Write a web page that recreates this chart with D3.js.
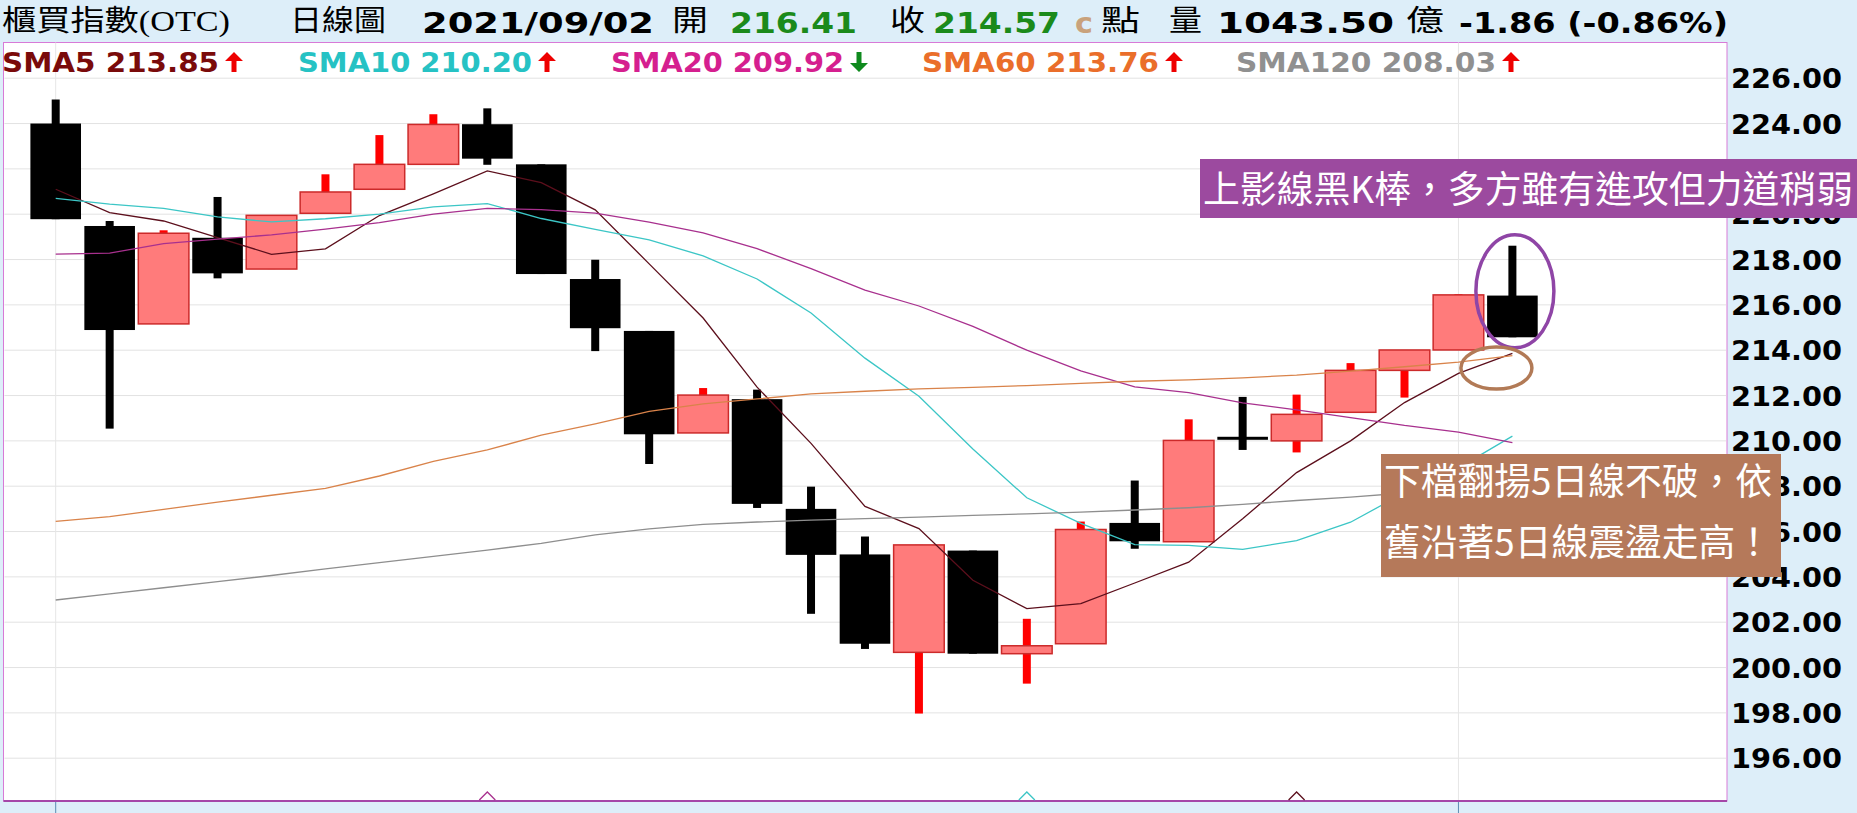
<!DOCTYPE html>
<html>
<head>
<meta charset="utf-8">
<script src="https://cdn.jsdelivr.net/npm/d3@7"></script>
<style>
  body { margin: 0; background: #ddeef9; overflow: hidden; }
  svg { display: block; }
</style>
</head>
<body>
<svg id="chart"></svg>
<script>
// daily candles, OTC index, 2021/07/27 - 2021/09/02
const dates = ['07/27','07/28','07/29','07/30','08/02','08/03','08/04','08/05','08/06','08/09',
  '08/10','08/11','08/12','08/13','08/16','08/17','08/18','08/19','08/20','08/23',
  '08/24','08/25','08/26','08/27','08/30','08/31','09/01','09/02']
const open  = [224.00,219.48,215.16,218.96,217.58,220.04,221.10,222.20,223.97,222.20,
  217.14,214.85,210.35,211.84,207.00,204.99,200.67,205.16,200.61,201.05,
  206.38,205.55,210.18,210.00,211.26,213.11,214.01,216.41]
const high  = [225.06,219.70,219.29,220.76,219.95,221.76,223.49,224.41,224.67,222.20,
  217.99,214.85,212.33,212.26,207.98,205.78,205.41,205.16,202.15,206.44,
  208.25,210.95,211.94,212.04,213.43,214.01,216.47,218.61]
const low   = [219.78,210.54,215.16,217.17,217.58,220.04,221.10,222.20,222.18,217.36,
  213.96,208.98,210.35,207.04,202.37,200.82,197.97,200.61,199.29,201.05,
  205.24,205.55,209.60,209.49,211.26,211.91,214.01,214.57]
const close = [219.78,214.89,219.16,217.39,219.95,220.98,222.20,223.96,222.45,217.36,
  214.97,210.29,212.02,207.22,204.97,201.05,205.41,200.61,200.96,206.09,
  205.57,210.02,210.15,211.17,213.11,214.01,216.44,214.57]

const sma5   = [221.10,220.07,219.70,218.97,218.23,218.47,219.94,220.90,221.91,221.39,
  220.19,217.81,215.42,212.37,209.89,207.11,206.13,203.85,202.60,202.82,
  203.73,204.65,206.56,208.60,210.00,211.69,212.98,213.86]
const sma10  = [220.70,220.44,220.26,219.88,219.66,219.80,220.00,220.32,220.47,219.81,
  219.33,218.87,218.16,217.14,215.64,213.65,211.97,209.64,207.49,206.36,
  205.42,205.39,205.21,205.60,206.41,207.71,208.81,210.21]
const sma20  = [218.24,218.28,218.70,218.90,219.09,219.34,219.63,220.00,220.26,220.20,
  220.05,219.65,219.18,218.48,217.60,216.65,215.95,215.05,214.00,213.09,
  212.38,212.13,211.68,211.37,211.03,210.68,210.39,209.92]
const sma60  = [206.45,206.66,206.98,207.30,207.60,207.90,208.45,209.10,209.60,210.25,
  210.75,211.30,211.63,211.85,212.07,212.19,212.29,212.36,212.44,212.54,
  212.63,212.69,212.78,212.90,213.08,213.27,213.47,213.76]
const sma120 = [202.98,203.25,203.52,203.79,204.06,204.35,204.63,204.90,205.18,205.48,
  205.85,206.12,206.32,206.42,206.50,206.57,206.64,206.71,206.78,206.86,
  206.95,207.05,207.20,207.37,207.52,207.70,207.87,208.03]

const yTicks = [196,198,200,202,204,206,208,210,212,214,216,218,220,222,224,226]
const gridDates = ['07/27','09/01']
const turnDates = ['08/06','08/20','08/27']
const turnSeries = ['SMA20','SMA10','SMA5']

const maNames  = ['SMA5','SMA10','SMA20','SMA60','SMA120']
const maValues = [213.85,210.20,209.92,213.76,208.03]
const maDir    = ['up','up','down','up','up']

const headerParts = ['櫃買指數(OTC)','日線圖','2021/09/02','開','216.41','收','214.57','c','點','量','1043.50','億','-1.86 (-0.86%)']
const note1 = '上影線黑K棒，多方雖有進攻但力道稍弱'
const note2 = ['下檔翻揚5日線不破，依','舊沿著5日線震盪走高！']

// ---- layout / styles
const W = 1857, H = 813
const plot = {left: 3.5, top: 42.5, right: 1727, bottom: 801}
const bg = '#ddeef9'
const serif = '"Liberation Serif","Noto Sans CJK TC",serif'
const cjk = '"Noto Sans CJK TC","Noto Sans",sans-serif'
const bold = '"DejaVu Sans",Verdana,sans-serif'
const lineColor = {SMA5: '#5c0f1c', SMA10: '#3cc6c6', SMA20: '#a8308e', SMA60: '#d9834a', SMA120: '#8e8e8e'}
const labelColor = {SMA5: '#7a0a0a', SMA10: '#26c2c4', SMA20: '#d51f8f', SMA60: '#ea6e2a', SMA120: '#909090'}
const maSeries = {SMA5: sma5, SMA10: sma10, SMA20: sma20, SMA60: sma60, SMA120: sma120}

const svg = d3.select('#chart').attr('width', W).attr('height', H)
svg.append('rect').attr('width', W).attr('height', H).attr('fill', bg)

const x = d3.scalePoint().domain(dates).range([55.7, 1512.4])
const y = d3.scaleLinear().domain([196, 226]).range([758.2, 78.2])
const step = x.step()
const bodyW = step * 0.938

// plot frame
svg.append('rect')
  .attr('x', plot.left).attr('y', plot.top)
  .attr('width', plot.right - plot.left).attr('height', plot.bottom - plot.top)
  .attr('fill', '#fff').attr('stroke', '#d77ad7').attr('stroke-width', 1)

// horizontal grid
svg.append('g').selectAll('line').data(yTicks).join('line')
  .attr('x1', plot.left + 1).attr('x2', plot.right - 1)
  .attr('y1', d => y(d)).attr('y2', d => y(d))
  .attr('stroke', '#e3e3e3').attr('stroke-width', 1)

// vertical grid + ticks under the frame
const vg = svg.append('g')
vg.selectAll('line.g').data(gridDates).join('line').attr('class', 'g')
  .attr('x1', d => x(d)).attr('x2', d => x(d))
  .attr('y1', plot.top).attr('y2', plot.bottom)
  .attr('stroke', '#e6e6e6')
vg.selectAll('line.t').data(gridDates).join('line').attr('class', 't')
  .attr('x1', d => x(d)).attr('x2', d => x(d))
  .attr('y1', plot.bottom).attr('y2', H)
  .attr('stroke', '#5b8db3')

svg.append('line')
  .attr('x1', plot.left).attr('x2', plot.right)
  .attr('y1', plot.bottom).attr('y2', plot.bottom)
  .attr('stroke', '#a547a8').attr('stroke-width', 2)

// candles
const candles = dates.map((d, i) => ({d, o: open[i], h: high[i], l: low[i], c: close[i]}))
const cg = svg.append('g')
const k = cg.selectAll('g').data(candles).join('g')
k.append('rect')
  .attr('x', d => x(d.d) - 4).attr('width', 8)
  .attr('y', d => y(d.h)).attr('height', d => Math.max(0.5, y(d.l) - y(d.h)))
  .attr('fill', d => d.c >= d.o ? '#ff0000' : '#000')
k.append('rect')
  .attr('x', d => x(d.d) - bodyW / 2).attr('width', bodyW)
  .attr('y', d => y(Math.max(d.o, d.c)))
  .attr('height', d => Math.max(3, Math.abs(y(d.o) - y(d.c))))
  .attr('fill', d => d.c >= d.o ? '#ff7b7b' : '#000')
  .attr('stroke', d => d.c >= d.o ? '#cc2a2a' : 'none')
  .attr('stroke-width', 1.5)

// moving averages
const line = d3.line().x((v, i) => x(dates[i])).y(v => y(v))
svg.append('g').selectAll('path').data(maNames).join('path')
  .attr('d', n => line(maSeries[n]))
  .attr('fill', 'none')
  .attr('stroke', n => lineColor[n])
  .attr('stroke-width', 1.3)

// turning markers at the bottom edge
svg.append('g').selectAll('path').data(turnDates).join('path')
  .attr('d', d => `M${x(d) - 8},${plot.bottom - 1} L${x(d)},${plot.bottom - 9} L${x(d) + 8},${plot.bottom - 1}`)
  .attr('fill', 'none')
  .attr('stroke', (d, i) => lineColor[turnSeries[i]])
  .attr('stroke-width', 1.3)

// y axis labels
svg.append('g').selectAll('text').data(yTicks).join('text')
  .attr('x', 1731).attr('y', d => y(d) + 10)
  .attr('textLength', 111).attr('lengthAdjust', 'spacingAndGlyphs')
  .attr('font-family', bold).attr('font-weight', 'bold').attr('font-size', 27)
  .attr('fill', '#000')
  .text(d => d.toFixed(2))

// legend
const legendX = [2, 298, 611, 922, 1236]
const legendW = [217, 234, 233, 237, 260]
const lg = svg.append('g')
maNames.forEach((n, i) => {
  lg.append('text')
    .attr('x', legendX[i]).attr('y', 71.5)
    .attr('textLength', legendW[i]).attr('lengthAdjust', 'spacingAndGlyphs')
    .attr('font-family', bold).attr('font-weight', 'bold').attr('font-size', 27)
    .attr('fill', labelColor[n])
    .text(`${n} ${maValues[i].toFixed(2)}`)
  const ax = legendX[i] + legendW[i] + 15
  const up = maDir[i] === 'up'
  const p = up
    ? `M${ax},52 L${ax + 9},61 L${ax + 2.5},61 L${ax + 2.5},72 L${ax - 2.5},72 L${ax - 2.5},61 L${ax - 9},61 Z`
    : `M${ax},72 L${ax + 9},63 L${ax + 2.5},63 L${ax + 2.5},52 L${ax - 2.5},52 L${ax - 2.5},63 L${ax - 9},63 Z`
  lg.append('path').attr('d', p).attr('fill', up ? '#ee0000' : '#0f8a1e')
})

// header
const headX = [2, 290, 422, 672, 730, 890, 933, 1075, 1101, 1169, 1217, 1406, 1459]
const headW = [228, 96, 232, 36, 127, 35, 127, 18, 39, 33, 177, 38, 269]
const headBold = [false, false, true, false, true, false, true, true, false, false, true, false, true]
const headColor = ['#000','#000','#000','#000','#1b8a1b','#000','#1b8a1b','#c9a27c','#000','#000','#000','#000','#000']
svg.append('g').selectAll('text').data(headerParts).join('text')
  .attr('x', (d, i) => headX[i]).attr('y', (d, i) => headBold[i] ? 32.5 : 31)
  .attr('textLength', (d, i) => headW[i]).attr('lengthAdjust', 'spacingAndGlyphs')
  .attr('font-family', (d, i) => headBold[i] ? bold : serif)
  .attr('font-weight', (d, i) => headBold[i] ? 'bold' : 'normal')
  .attr('font-size', 29)
  .attr('fill', (d, i) => headColor[i])
  .text(d => d)

// annotations
const last = dates[dates.length - 1]
svg.append('ellipse')
  .attr('cx', x(last) + 2.5).attr('cy', y(216.6)).attr('rx', 39).attr('ry', 56.5)
  .attr('fill', 'none').attr('stroke', '#8f45a6').attr('stroke-width', 3.5)
svg.append('ellipse')
  .attr('cx', x(last) - 16).attr('cy', y(213.21)).attr('rx', 35.5).attr('ry', 21)
  .attr('fill', 'none').attr('stroke', '#b27a56').attr('stroke-width', 3.5)

svg.append('rect').attr('x', 1200).attr('y', 159).attr('width', W - 1200).attr('height', 59)
  .attr('fill', '#9c4a9f')
svg.append('text').attr('x', 1203).attr('y', 203)
  .attr('textLength', 650).attr('lengthAdjust', 'spacingAndGlyphs')
  .attr('font-family', cjk).attr('font-size', 37).attr('fill', '#fff')
  .text(note1)

svg.append('rect').attr('x', 1381).attr('y', 454).attr('width', 400).attr('height', 123)
  .attr('fill', '#b5795a')
svg.append('g').selectAll('text').data(note2).join('text')
  .attr('x', 1384).attr('y', (d, i) => 495 + i * 61)
  .attr('textLength', 388).attr('lengthAdjust', 'spacingAndGlyphs')
  .attr('font-family', cjk).attr('font-size', 37).attr('fill', '#fff')
  .text(d => d)
</script>
</body>
</html>
